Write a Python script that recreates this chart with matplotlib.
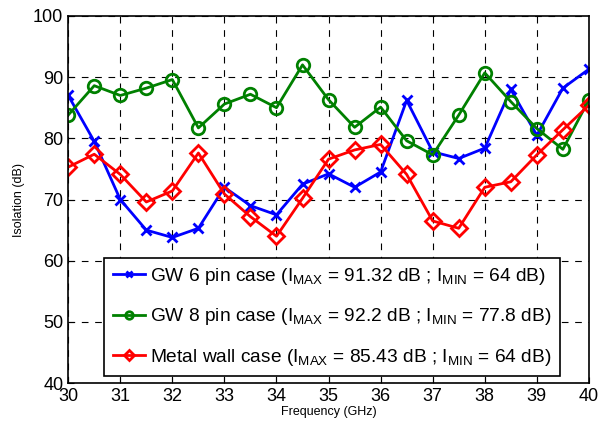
import matplotlib
matplotlib.use('Agg')
import matplotlib.pyplot as plt
import numpy as np

plt.rcParams['font.family'] = ['Liberation Sans', 'DejaVu Sans']
plt.rcParams['mathtext.default'] = 'regular'

# data
freq = [30, 30.5, 31, 31.5, 32, 32.5, 33, 33.5, 34, 34.5, 35,
        35.5, 36, 36.5, 37, 37.5, 38, 38.5, 39, 39.5, 40]
gw6 = [87.0, 79.5, 70.0, 65.0, 63.8, 65.3, 72.0, 69.0, 67.5, 72.5, 74.2,
       72.0, 74.5, 86.2, 77.8, 76.7, 78.4, 88.0, 80.5, 88.2, 91.3]
gw8 = [83.8, 88.6, 87.0, 88.2, 89.6, 81.7, 85.6, 87.2, 85.0, 92.0, 86.3,
       81.8, 85.1, 79.6, 77.3, 83.8, 90.7, 86.0, 81.6, 78.2, 86.3]
metal = [75.3, 77.4, 74.1, 69.6, 71.4, 77.6, 70.9, 67.2, 64.0, 70.2, 76.6,
         78.1, 79.0, 74.1, 66.5, 65.3, 72.0, 72.9, 77.3, 81.4, 85.4]

labels = [
    r'GW 6 pin case (I$_{MAX}$ = 91.32 dB ; I$_{MIN}$ = 64 dB)',
    r'GW 8 pin case (I$_{MAX}$ = 92.2 dB ; I$_{MIN}$ = 77.8 dB)',
    r'Metal wall case (I$_{MAX}$ = 85.43 dB ; I$_{MIN}$ = 64 dB)',
]

fig = plt.figure(figsize=(6.09, 4.30), dpi=100)
ax = fig.add_axes([0.112, 0.109, 0.855, 0.854])

ax.plot(freq, gw6, color='#0000ff', lw=2, marker='x', ms=7, mew=2, label=labels[0])
ax.plot(freq, gw8, color='#008000', lw=2, marker='o', ms=9, mew=2,
        mfc='none', label=labels[1])
ax.plot(freq, metal, color='#ff0000', lw=2, marker='D', ms=8, mew=2,
        mfc='none', label=labels[2])

ax.set_xlim(30, 40)
ax.set_ylim(40, 100)
ax.set_xticks(np.arange(30, 41, 1))
ax.set_yticks(np.arange(40, 101, 10))
ax.tick_params(labelsize=13, direction='in', length=4)
ax.grid(True, color='black', linestyle=(0, (6, 6)), linewidth=0.8)
ax.set_xlabel('Frequency (GHz)', fontsize=9, labelpad=1)
ax.set_ylabel('Isolation (dB)', fontsize=9, labelpad=6)
for s in ax.spines.values():
    s.set_linewidth(1.2)

leg = ax.legend(loc='lower left', bbox_to_anchor=(0.069, 0.019), fontsize=13.8,
                frameon=True, fancybox=False, edgecolor='black',
                handlelength=1.7, handletextpad=0.25, borderpad=0.45,
                labelspacing=1.0, borderaxespad=0, markerscale=0.6)
leg.get_frame().set_linewidth(1.2)
leg.get_frame().set_alpha(1)

fig.savefig('out.png', dpi=100, facecolor='white')
